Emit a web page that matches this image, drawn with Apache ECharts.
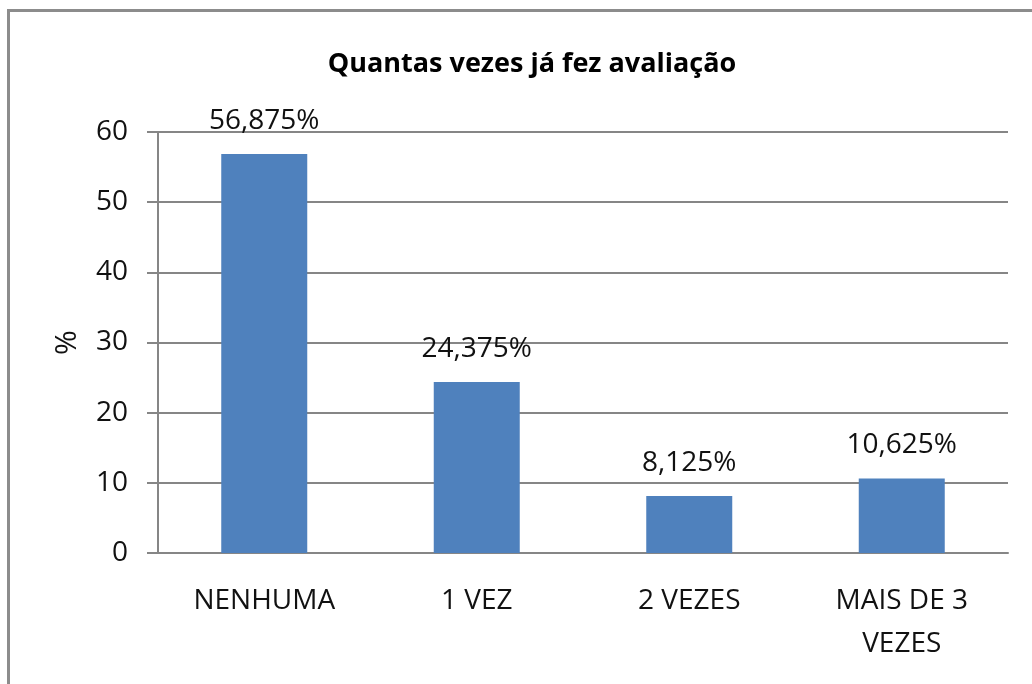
<!DOCTYPE html>
<html>
<head>
<meta charset="utf-8">
<script src="https://cdn.jsdelivr.net/npm/echarts@6/dist/echarts.min.js"></script>
<style>
html,body{margin:0;padding:0;background:#fff;}
#frame{position:absolute;left:7px;top:9px;width:1030px;height:680px;border-top:3px solid #8c8c8c;border-left:3px solid #8c8c8c;}
#chart{position:absolute;left:0;top:0;width:1032px;height:684px;}
</style>
</head>
<body>
<div id="frame"></div>
<div id="chart"></div>
<script>
// dados
var categorias = ['NENHUMA', '1 VEZ', '2 VEZES', 'MAIS DE 3\nVEZES']
var valores = [56.875, 24.375, 8.125, 10.625]
var rotulos = ['56,875%', '24,375%', '8,125%', '10,625%']

var chart = echarts.init(document.getElementById('chart'))
var fonte = '"Open Sans", sans-serif'
var options = {
    animation:false,
    title:{
        text:'Quantas vezes já fez avaliação',
        left:527,
        textAlign:'center',
        top:46,
        textStyle:{
            color:'#000',
            fontFamily:fonte,
            fontWeight:'bold',
            fontSize:27
        }
    },
    grid:{
        left:158,
        right:24,
        top:132,
        bottom:131
    },
    xAxis:{
        type:'category',
        data:categorias,
        axisLine:{lineStyle:{color:'#868686',width:2}},
        axisTick:{show:false},
        axisLabel:{
            color:'#111',
            fontFamily:fonte,
            fontSize:28,
            lineHeight:43,
            margin:27
        }
    },
    yAxis:{
        type:'value',
        min:0,
        max:60,
        interval:10,
        name:'%',
        nameLocation:'middle',
        nameGap:76,
        nameRotate:90,
        nameTextStyle:{color:'#111',fontFamily:fonte,fontSize:30},
        axisLine:{show:true,lineStyle:{color:'#868686',width:2}},
        axisTick:{show:true,length:11,lineStyle:{color:'#868686',width:2}},
        splitLine:{lineStyle:{color:'#868686',width:2}},
        axisLabel:{
            color:'#111',
            fontFamily:fonte,
            fontSize:28,
            margin:30
        }
    },
    series:[{
        type:'bar',
        data:valores,
        barWidth:86,
        itemStyle:{color:'#4F81BD'},
        label:{
            show:true,
            position:'top',
            distance:19,
            color:'#111',
            fontFamily:fonte,
            fontSize:28,
            formatter:function(p){ return rotulos[p.dataIndex] }
        }
    }]
}
chart.setOption(options)
</script>
</body>
</html>
